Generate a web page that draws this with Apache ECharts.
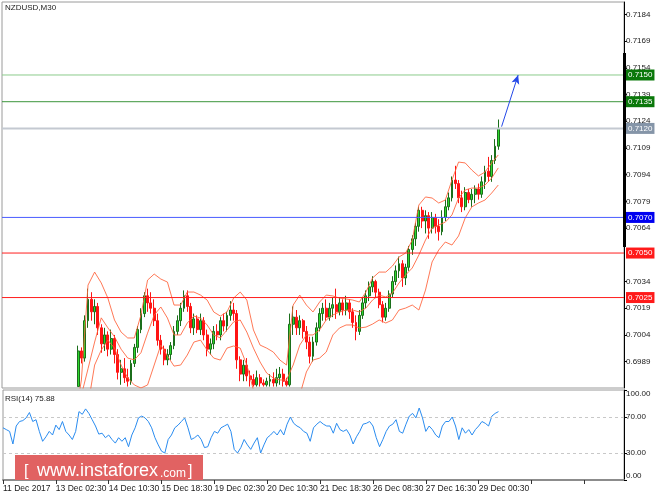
<!DOCTYPE html>
<html><head><meta charset="utf-8">
<script src="https://cdn.jsdelivr.net/npm/echarts@6/dist/echarts.min.js"></script>
<style>html,body{margin:0;padding:0;background:#fff}#c{width:664px;height:498px}</style>
</head><body><div id="c"></div><script>
// ---- data ----
const symbolTitle = 'NZDUSD,M30';
const rsiTitle = 'RSI(14) 75.88';
const tickLabels = ['11 Dec 2017','13 Dec 02:30','14 Dec 10:30','15 Dec 18:30','19 Dec 02:30','20 Dec 10:30','21 Dec 18:30','26 Dec 08:30','27 Dec 16:30','29 Dec 00:30'];
const tickStep = 16;      // candles between time labels
const slotCount = 189;    // candle slots across the plot
const priceTicks = [0.6989,0.7004,0.7019,0.7034,0.7064,0.7079,0.7094,0.7109,0.7124,0.7139,0.7154,0.7169,0.7184];
const rsiTicks = [0,30,70,100];
const rsiLevels = [70,30];
const levelValues = [0.7150,0.7135,0.7120,0.7070,0.7050,0.7025];
const arrowFrom = [151,0.7121];
const arrowTo = [156,0.7150];
// [open, close, low, high]
const ohlc = [
[.6958,.6956,.6953,.6960],[.6956,.6955,.6952,.6958],[.6955,.6953,.6950,.6957],[.6953,.6948,.6946,.6955],
[.6948,.6955,.6947,.6957],[.6955,.6959,.6953,.6961],[.6959,.6961,.6957,.6963],[.6961,.6964,.6959,.6966],
[.6964,.6969,.6962,.6971],[.6969,.6966,.6963,.6970],[.6966,.6967,.6963,.6969],[.6967,.6962,.6960,.6968],
[.6962,.6957,.6955,.6963],[.6957,.6959,.6955,.6961],[.6959,.6962,.6957,.6964],[.6962,.6960,.6958,.6964],
[.6960,.6965,.6959,.6967],[.6965,.6963,.6961,.6967],[.6963,.6967,.6961,.6969],[.6967,.6964,.6962,.6968],
[.6964,.6962,.6960,.6966],[.6962,.6960,.6958,.6964],[.6960,.6970,.6959,.6972],[.6975,.6995,.6975,.6998],
[.6995,.6991,.6988,.6997],[.6991,.7012,.6989,.7015],[.7012,.7024,.7008,.7030],[.7024,.7017,.7012,.7028],
[.7017,.7020,.7010,.7024],[.7020,.7008,.7004,.7022],[.7008,.6999,.6994,.7010],[.6999,.7004,.6995,.7008],
[.7004,.6996,.6992,.7006],[.6996,.7002,.6993,.7007],[.7002,.6993,.6988,.7004],[.6993,.6983,.6979,.6996],
[.6983,.6985,.6976,.6990],[.6985,.6980,.6977,.6991],[.6980,.6978,.6975,.6985],[.6978,.6988,.6976,.6990],
[.6988,.6997,.6986,.6999],[.6997,.7007,.6994,.7009],[.7007,.7016,.7005,.7019],[.7016,.7026,.7014,.7028],
[.7026,.7022,.7017,.7030],[.7022,.7019,.7016,.7028],[.7019,.7012,.7009,.7024],[.7012,.7001,.6998,.7016],
[.7001,.6996,.6993,.7004],[.6996,.6990,.6987,.6998],[.6990,.6993,.6987,.6996],[.6993,.6998,.6990,.7000],
[.6998,.7006,.6996,.7009],[.7006,.7012,.7004,.7015],[.7012,.7019,.7009,.7022],[.7019,.7026,.7017,.7029],
[.7026,.7020,.7017,.7029],[.7020,.7008,.7005,.7022],[.7008,.7013,.7004,.7016],[.7013,.7007,.7005,.7015],
[.7007,.7012,.7004,.7016],[.7012,.7004,.7001,.7014],[.7004,.6996,.6992,.7007],[.6996,.6999,.6993,.7002],
[.6999,.7006,.6996,.7009],[.7006,.7004,.7001,.7010],[.7004,.7012,.7001,.7014],[.7012,.7009,.7006,.7016],
[.7009,.7015,.7006,.7017],[.7015,.7018,.7012,.7023],[.7018,.7016,.7012,.7022],[.7016,.6990,.6985,.7018],
[.6990,.6982,.6978,.6992],[.6982,.6987,.6978,.6990],[.6987,.6981,.6978,.6991],[.6981,.6979,.6975,.6984],
[.6979,.6976,.6975,.6982],[.6976,.6980,.6975,.6984],[.6980,.6977,.6975,.6982],[.6977,.6976,.6975,.6979],
[.6976,.6978,.6975,.6980],[.6978,.6979,.6975,.6982],[.6979,.6977,.6975,.6983],[.6977,.6980,.6975,.6985],
[.6980,.6982,.6976,.6986],[.6982,.6978,.6975,.6985],[.6978,.6976,.6975,.6980],[.6976,.7010,.6975,.7016],
[.7010,.7014,.7004,.7020],[.7014,.7008,.7004,.7018],[.7008,.7012,.7004,.7015],[.7012,.7006,.7002,.7013],
[.7006,.7000,.6996,.7009],[.7000,.6992,.6988,.7003],[.6992,.7000,.6989,.7003],[.7000,.7008,.6998,.7011],
[.7008,.7016,.7006,.7019],[.7016,.7019,.7012,.7022],[.7019,.7014,.7012,.7024],[.7014,.7019,.7012,.7022],
[.7019,.7021,.7014,.7025],[.7021,.7017,.7013,.7030],[.7017,.7022,.7015,.7025],[.7022,.7018,.7015,.7024],
[.7018,.7022,.7015,.7026],[.7022,.7017,.7013,.7024],[.7017,.7011,.7008,.7019],[.7011,.7006,.7001,.7015],
[.7006,.7015,.7004,.7018],[.7015,.7022,.7013,.7025],[.7022,.7026,.7019,.7029],[.7026,.7031,.7023,.7034],
[.7031,.7034,.7028,.7037],[.7034,.7028,.7025,.7035],[.7028,.7021,.7019,.7030],[.7021,.7014,.7011,.7023],
[.7014,.7019,.7012,.7022],[.7019,.7027,.7017,.7029],[.7027,.7034,.7025,.7037],[.7034,.7040,.7032,.7043],
[.7040,.7044,.7036,.7048],[.7044,.7036,.7031,.7046],[.7036,.7042,.7032,.7044],[.7042,.7052,.7040,.7054],
[.7052,.7058,.7049,.7060],[.7058,.7065,.7054,.7067],[.7065,.7074,.7062,.7076],[.7074,.7068,.7064,.7076],
[.7068,.7071,.7061,.7074],[.7071,.7064,.7058,.7073],[.7064,.7070,.7061,.7073],[.7070,.7065,.7061,.7072],
[.7065,.7062,.7057,.7069],[.7062,.7070,.7060,.7074],[.7070,.7076,.7068,.7080],[.7076,.7081,.7074,.7084],
[.7081,.7091,.7079,.7093],[.7091,.7089,.7086,.7099],[.7089,.7081,.7078,.7091],[.7081,.7076,.7073,.7085],
[.7076,.7084,.7074,.7087],[.7084,.7080,.7078,.7086],[.7080,.7083,.7076,.7086],[.7083,.7086,.7078,.7088],
[.7086,.7083,.7080,.7089],[.7083,.7090,.7081,.7093],[.7090,.7096,.7086,.7099],[.7096,.7093,.7090,.7104],
[.7093,.7102,.7090,.7105],[.7102,.7110,.7100,.7114],[.7110,.7120,.7108,.7125]
];
const bandIdx = [22,24,26,28,30,32,34,36,38,40,42,44,46,48,50,52,54,56,58,60,62,64,66,68,70,72,74,76,78,80,82,84,86,88,90,92,94,96,98,100,102,104,106,108,110,112,114,116,118,120,122,124,126,128,130,132,134,136,138,140,142,144,146,148,150];
const bbUpper = [.69562,.69787,.70320,.70393,.70332,.70247,.70124,.70056,.70023,.70023,.70152,.70348,.70382,.70354,.70337,.70208,.70208,.70281,.70281,.70264,.70236,.70169,.70146,.70169,.70247,.70281,.70236,.70068,.69983,.69966,.69944,.69899,.69871,.70208,.70264,.70208,.70169,.70225,.70264,.70259,.70247,.70242,.70236,.70225,.70281,.70360,.70393,.70393,.70427,.70478,.70500,.70573,.70770,.70815,.70809,.70781,.70798,.70910,.71011,.71006,.70966,.70933,.70955,.71006,.71051];
const bbMiddle = [.69618,.69702,.69850,.70000,.70136,.70080,.70030,.69960,.69910,.69900,.69940,.70050,.70152,.70197,.70135,.70040,.70040,.70107,.70146,.70135,.70096,.70040,.70023,.70068,.70113,.70124,.70056,.69966,.69888,.69826,.69798,.69787,.69787,.69871,.69983,.70040,.70040,.70068,.70124,.70152,.70169,.70180,.70180,.70169,.70191,.70236,.70264,.70253,.70275,.70332,.70377,.70416,.70489,.70573,.70641,.70657,.70674,.70714,.70809,.70854,.70865,.70865,.70882,.70921,.70978];
const bbLower = [.69562,.69618,.69646,.69871,.69955,.70011,.69966,.69871,.69798,.69759,.69742,.69759,.69871,.69983,.69922,.69865,.69871,.69927,.70000,.70011,.69955,.69910,.69899,.69966,.69978,.69966,.69871,.69730,.69674,.69646,.69646,.69674,.69686,.69562,.69702,.69832,.69899,.69910,.69944,.70040,.70079,.70096,.70096,.70079,.70084,.70101,.70124,.70107,.70124,.70180,.70191,.70208,.70180,.70292,.70450,.70517,.70562,.70545,.70596,.70697,.70759,.70781,.70798,.70837,.70882];
const rsi = [58,56,54,40,60,65,66,69,75,65,67,54,43,48,54,50,61,56,65,54,50,45,54,76,73,79,74,67,60,51,
52,47,50,45,41,47,43,47,37,50,58,69,71,69,65,58,47,39,32,30,45,50,58,61,65,69,58,45,47,50,
45,36,37,47,54,52,58,60,62,54,34,30,36,45,39,34,41,47,30,39,47,50,54,50,56,50,62,70,63,60,
58,54,52,43,58,62,65,62,60,60,52,63,56,54,56,50,40,48,54,62,63,65,60,47,37,45,54,60,62,67,
54,52,62,71,74,69,80,69,54,60,56,50,47,60,65,65,70,60,45,58,52,56,50,56,60,65,63,60,71,74,76];

// ---- chart ----
const FONT = '"Liberation Sans", Arial, sans-serif';
const cats = Array.from({length: slotCount}, (_, i) => (i % tickStep === 0 && tickLabels[i / tickStep]) ? tickLabels[i / tickStep] : '');
const levelStyles = [
  {line:'#8ccc8c', w:1, box:'#0a780a'},
  {line:'#3c963c', w:1, box:'#0a780a'},
  {line:'#c4c9d1', w:2, box:'#8595a8'},
  {line:'#4a5cff', w:1, box:'#0000f0'},
  {line:'#ff1e1e', w:1, box:'#ff1a1a'},
  {line:'#ff1e1e', w:1, box:'#ff1a1a'}
];
const levelSeries = levelValues.map((v, k) => ({
  type: 'line', xAxisIndex: 0, yAxisIndex: 0, symbol: 'none', silent: true, clip: false, z: 4,
  data: [[0, v], [slotCount - 1, v]],
  color: levelStyles[k].line,
  lineStyle: {color: levelStyles[k].line, width: levelStyles[k].w, type: 'solid'},
  endLabel: {show: true, distance: 2, formatter: () => v.toFixed(4),
    backgroundColor: levelStyles[k].box, color: '#fff', padding: [2, 2, 1, 2],
    fontSize: 8, fontFamily: FONT}
}));
const arrowStyle = {color: '#2448e8', width: 1, type: 'solid'};
const arrowLine = [
  {coord: arrowFrom, symbol: 'none', lineStyle: arrowStyle, label: {show: false}},
  {coord: arrowTo, symbol: 'arrow', symbolSize: [6, 9], lineStyle: arrowStyle, label: {show: false}}
];
const bandSeries = (arr) => ({
  type: 'line', xAxisIndex: 0, yAxisIndex: 0, symbol: 'none', silent: true,
  data: bandIdx.map((k, j) => [k, arr[j]]),
  lineStyle: {color: '#ff6038', width: 1, opacity: 0.85}, clip: true, z: 3
});

const chart = echarts.init(document.getElementById('c'), null, {renderer: 'canvas'});
chart.setOption({
  animation: false,
  backgroundColor: '#fff',
  grid: [
    {left: 2, right: 40, top: 2, height: 386, show: true, borderColor: '#9a9a9a', borderWidth: 1, backgroundColor: '#fff'},
    {left: 2, right: 40, top: 390, height: 90, show: true, borderColor: '#9a9a9a', borderWidth: 1, backgroundColor: '#fff'}
  ],
  xAxis: [
    {type: 'category', gridIndex: 0, data: cats, boundaryGap: false, show: false},
    {type: 'category', gridIndex: 1, data: cats, boundaryGap: false,
     axisLine: {show: true, lineStyle: {color: '#8c8c8c', width: 2}},
     axisTick: {show: true, interval: tickStep - 1, length: 4, lineStyle: {color: '#333'}},
     axisLabel: {interval: tickStep - 1, align: 'left', margin: 4, fontSize: 8.5, color: '#1a1a1a', fontFamily: FONT},
     splitLine: {show: false}}
  ],
  yAxis: [
    {type: 'value', gridIndex: 0, position: 'right', min: 0.69742, max: 0.71910,
     axisLine: {show: true, lineStyle: {color: '#000'}},
     axisTick: {show: true, length: 3, customValues: priceTicks, lineStyle: {color: '#000'}},
     axisLabel: {customValues: priceTicks, formatter: v => v.toFixed(4), margin: 2, fontSize: 8, color: '#1a1a1a', fontFamily: FONT},
     splitLine: {show: false}},
    {type: 'value', gridIndex: 1, position: 'right', min: 0, max: 100,
     axisLine: {show: true, lineStyle: {color: '#000'}},
     axisTick: {show: true, length: 3, customValues: rsiTicks, lineStyle: {color: '#000'}},
     axisLabel: {customValues: rsiTicks, formatter: v => v.toFixed(2), margin: 2, fontSize: 8, color: '#1a1a1a', fontFamily: FONT,
       verticalAlignMinLabel: 'bottom', verticalAlignMaxLabel: 'top'},
     splitLine: {show: false}}
  ],
  series: [
    {type: 'candlestick', xAxisIndex: 0, yAxisIndex: 0, data: ohlc, barWidth: 2.4, clip: true,
     itemStyle: {color: '#2ed82e', color0: '#ff1414', borderColor: '#1b6e1b', borderColor0: '#ff1414', borderWidth: 1},
     markLine: {silent: true, symbol: ['none', 'none'], animation: false, data: [arrowLine]}},
    bandSeries(bbUpper), bandSeries(bbMiddle), bandSeries(bbLower),
    ...levelSeries,
    {type: 'line', xAxisIndex: 1, yAxisIndex: 1, data: rsi, symbol: 'none', silent: true,
     lineStyle: {color: '#2a8cf0', width: 1},
     markLine: {silent: true, symbol: ['none', 'none'], label: {show: false},
       lineStyle: {color: '#c8c8c8', type: [3, 3], width: 1},
       data: rsiLevels.map(v => ({yAxis: v}))}}
  ],
  graphic: [
    {type: 'rect', shape: {x: 623, y: 53, width: 3, height: 194}, style: {fill: '#000'}, z: 50, silent: true},
    {type: 'text', x: 5, y: 4, style: {text: symbolTitle, font: '8px ' + FONT, fill: '#222', verticalAlign: 'top'}, z: 50},
    {type: 'text', x: 5, y: 395, style: {text: rsiTitle, font: '8px ' + FONT, fill: '#222', verticalAlign: 'top'}, z: 50},
    {type: 'rect', shape: {x: 15, y: 455, width: 188, height: 25}, style: {fill: '#e16262'}, z: 60, silent: true},
    {type: 'text', x: 24, y: 472, style: {text: '[', font: '16px ' + FONT, fill: '#fff', verticalAlign: 'middle'}, z: 61},
    {type: 'text', x: 37, y: 471.5, style: {text: 'www.instaforex', font: '18px ' + FONT, fill: '#fff', verticalAlign: 'middle'}, z: 61},
    {type: 'text', x: 160, y: 473.5, style: {text: '.com', font: '12px ' + FONT, fill: '#fff', verticalAlign: 'middle'}, z: 61},
    {type: 'text', x: 188, y: 472, style: {text: ']', font: '16px ' + FONT, fill: '#fff', verticalAlign: 'middle'}, z: 61}
  ]
});
</script></body></html>
